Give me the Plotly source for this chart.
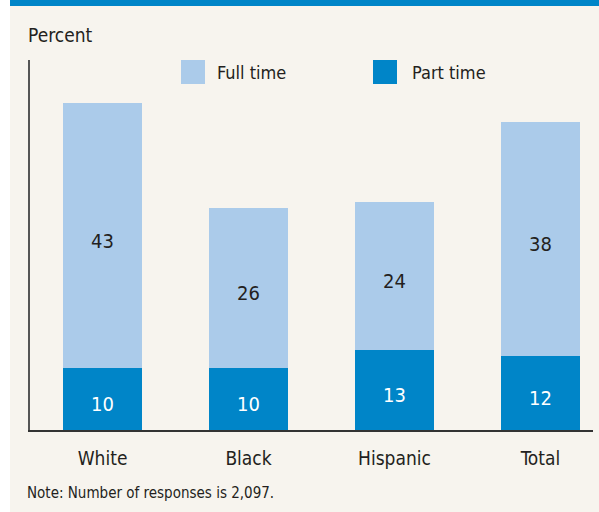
import plotly.graph_objects as go

# Employment status by group, in percent
groups = ["White", "Black", "Hispanic", "Total"]
part_time = [10, 10, 13, 12]
full_time = [43, 26, 24, 38]
series_names = ["Full time", "Part time"]
note_text = "Note: Number of responses is 2,097."
y_title = "Percent"

DARK = "#0085c8"
LIGHT = "#abcbea"
BG = "#f7f4ee"
INK = "#231f20"
FONT = "DejaVu Sans Condensed, Liberation Sans Narrow, Arial Narrow, sans-serif"

W, H = 599, 512
L, R, T, B = 30, 6, 60, 82
pw, ph = W - L - R, H - T - B


def px_x(v):
    return (v - L) / pw


def px_y(v):
    return (H - B - v) / ph


xs = list(range(len(groups)))

fig = go.Figure()
fig.add_trace(go.Bar(
    x=xs, y=part_time, name=series_names[1], marker_color=DARK,
    marker_line_width=0, width=0.541, hoverinfo="y+name",
))
fig.add_trace(go.Bar(
    x=xs, y=full_time, name=series_names[0], marker_color=LIGHT,
    marker_line_width=0, width=0.541, hoverinfo="y+name",
))

shapes = [
    # white strip on the left edge
    dict(type="rect", xref="paper", yref="paper",
         x0=px_x(0), x1=px_x(10), y0=px_y(H), y1=px_y(0),
         fillcolor="white", line_width=0, layer="below"),
    # top rule
    dict(type="rect", xref="paper", yref="paper",
         x0=px_x(10), x1=px_x(W + 2), y0=px_y(6), y1=px_y(0),
         fillcolor=DARK, line_width=0),
    # legend swatches
    dict(type="rect", xref="paper", yref="paper",
         x0=px_x(181), x1=px_x(205), y0=px_y(84), y1=px_y(60),
         fillcolor=LIGHT, line_width=0),
    dict(type="rect", xref="paper", yref="paper",
         x0=px_x(373), x1=px_x(397), y0=px_y(84), y1=px_y(60),
         fillcolor=DARK, line_width=0),
]

annotations = [
    dict(text=y_title, xref="paper", yref="paper", x=px_x(26), y=px_y(35),
         xanchor="left", yanchor="middle", showarrow=False,
         font=dict(size=19, color=INK, family=FONT)),
    dict(text=series_names[0], xref="paper", yref="paper", x=px_x(215), y=px_y(72),
         xanchor="left", yanchor="middle", showarrow=False,
         font=dict(size=18, color=INK, family=FONT)),
    dict(text=series_names[1], xref="paper", yref="paper", x=px_x(410), y=px_y(72),
         xanchor="left", yanchor="middle", showarrow=False,
         font=dict(size=18, color=INK, family=FONT)),
    dict(text=note_text, xref="paper", yref="paper", x=px_x(25), y=px_y(493),
         xanchor="left", yanchor="middle", showarrow=False,
         font=dict(size=15, color=INK, family=FONT)),
]

# value labels placed in the middle of each stacked segment
for i, (p, f) in enumerate(zip(part_time, full_time)):
    annotations.append(dict(
        text=str(p), x=i, y=p / 2, xref="x", yref="y", yshift=-5,
        showarrow=False, font=dict(size=20, color="white", family=FONT)))
    annotations.append(dict(
        text=str(f), x=i, y=p + f / 2, xref="x", yref="y", yshift=-5,
        showarrow=False, font=dict(size=20, color=INK, family=FONT)))

fig.update_layout(
    width=W, height=H,
    margin=dict(l=L, r=R, t=T, b=B, pad=0),
    barmode="stack",
    showlegend=False,
    paper_bgcolor=BG, plot_bgcolor=BG,
    font=dict(family=FONT, color=INK),
    shapes=shapes,
    annotations=annotations,
    xaxis=dict(
        range=[-0.497, 3.36], tickvals=xs, ticktext=groups,
        showgrid=False, zeroline=False, showline=True,
        linecolor="#333333", linewidth=1.5, ticks="",
        tickfont=dict(size=19, color=INK, family=FONT),
        ticklabelstandoff=10, fixedrange=True,
    ),
    yaxis=dict(
        range=[0, 60], showgrid=False, zeroline=False, showline=True,
        linecolor="#555555", linewidth=1.5, showticklabels=False,
        ticks="", fixedrange=True,
    ),
)

fig.write_html("out.html", config=dict(displayModeBar=False))
